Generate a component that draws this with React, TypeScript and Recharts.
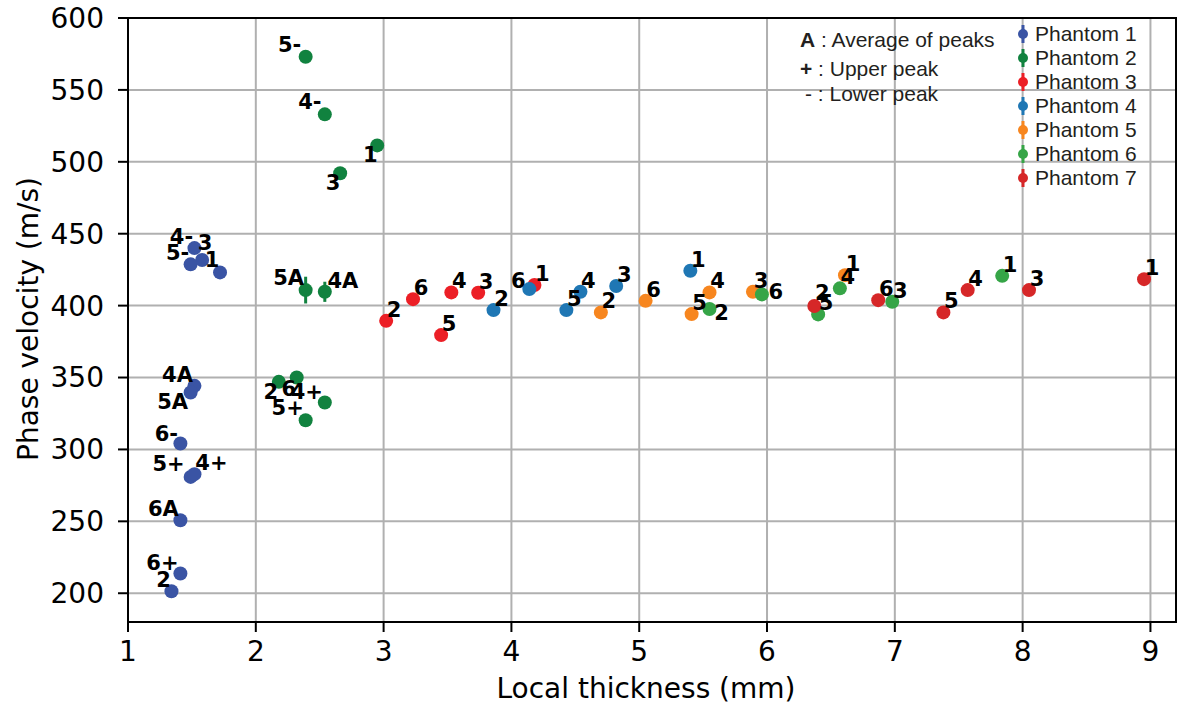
import React from 'react';
import {
  ScatterChart,
  Scatter,
  XAxis,
  YAxis,
  CartesianGrid,
  ReferenceArea,
  ErrorBar,
} from 'recharts';

// Phantom 1
const P1_LABELS = ['4-', '3', '5-', '1', '4A', '5A', '6-', '5+', '4+', '6A', '6+', '2'];
const P1_THICKNESS = [1.52, 1.58, 1.49, 1.72, 1.52, 1.49, 1.41, 1.49, 1.52, 1.41, 1.41, 1.34];
const P1_VELOCITY = [440, 431.7, 428.7, 423.1, 344.2, 339.6, 304.1, 280.9, 282.8, 250.8, 213.7, 201.4];

// Phantom 2
const P2_LABELS = ['5-', '4-', '1', '3', '5A', '4A', '2', '6', '4+', '5+'];
const P2_THICKNESS = [2.39, 2.54, 2.95, 2.66, 2.39, 2.54, 2.18, 2.32, 2.54, 2.39];
const P2_VELOCITY = [573.1, 533, 511.4, 492, 410.8, 409.6, 347, 350, 332.6, 320.3];
const P2_ERROR = [0, 0, 0, 0, 9.3, 7, 0, 0, 0, 0];

const NUM_LABELS = ['1', '2', '3', '4', '5', '6'];

// Phantom 3..7 (points 1..6)
const P3_THICKNESS = [4.18, 3.02, 3.74, 3.53, 3.45, 3.23];
const P3_VELOCITY = [414.3, 389.4, 408.9, 409.2, 379.5, 404.5];

const P4_THICKNESS = [5.4, 3.86, 4.82, 4.54, 4.43, 4.14];
const P4_VELOCITY = [424.2, 396.9, 413.6, 409.6, 396.9, 411.5];

const P5_THICKNESS = [6.61, 4.7, 5.89, 5.55, 5.41, 5.05];
const P5_VELOCITY = [421.2, 395.3, 409.6, 409.2, 394.1, 403.3];

const P6_THICKNESS = [7.84, 5.55, 6.98, 6.57, 6.4, 5.96];
const P6_VELOCITY = [420.7, 397.6, 402.7, 412, 393.9, 407.8];

const P7_THICKNESS = [8.95, 6.37, 8.05, 7.57, 7.38, 6.87];
const P7_VELOCITY = [418.4, 399.7, 410.8, 410.8, 395.3, 403.8];

const X_TICKS = [1, 2, 3, 4, 5, 6, 7, 8, 9];
const Y_TICKS = [200, 250, 300, 350, 400, 450, 500, 550, 600];

const build = (id: string, labels: string[], xs: number[], ys: number[], errs?: number[]) =>
  xs.map((x, i) => ({ series: id, label: labels[i], x, y: ys[i], err: errs ? errs[i] : 0 }));

const SERIES = [
  { id: 'P1', name: 'Phantom 1', color: '#3a54a4', data: build('P1', P1_LABELS, P1_THICKNESS, P1_VELOCITY) },
  { id: 'P2', name: 'Phantom 2', color: '#11823f', data: build('P2', P2_LABELS, P2_THICKNESS, P2_VELOCITY, P2_ERROR) },
  { id: 'P3', name: 'Phantom 3', color: '#ec1f26', data: build('P3', NUM_LABELS, P3_THICKNESS, P3_VELOCITY) },
  { id: 'P4', name: 'Phantom 4', color: '#1f77b4', data: build('P4', NUM_LABELS, P4_THICKNESS, P4_VELOCITY) },
  { id: 'P5', name: 'Phantom 5', color: '#f7861f', data: build('P5', NUM_LABELS, P5_THICKNESS, P5_VELOCITY) },
  { id: 'P6', name: 'Phantom 6', color: '#36a547', data: build('P6', NUM_LABELS, P6_THICKNESS, P6_VELOCITY) },
  { id: 'P7', name: 'Phantom 7', color: '#d62728', data: build('P7', NUM_LABELS, P7_THICKNESS, P7_VELOCITY) },
];

const ALL_POINTS = SERIES.flatMap(s => s.data);

// where each text label sits relative to its dot (px)
const LABEL_OFFSET: Record<string, [number, number]> = {
  'P1:4-': [-13, -11], 'P1:3': [3, -17], 'P1:5-': [-13, -11], 'P1:1': [-8, -12],
  'P1:4A': [-17, -11], 'P1:5A': [-18, 10], 'P1:6-': [-14, -10], 'P1:5+': [-22, -13],
  'P1:4+': [17, -11], 'P1:6A': [-17, -11], 'P1:6+': [-18, -11], 'P1:2': [-8, -11],
  'P2:5-': [-16, -12], 'P2:4-': [-15, -12], 'P2:1': [-7, 10], 'P2:3': [-7, 10],
  'P2:5A': [-17, -12], 'P2:4A': [18, -11], 'P2:2': [-8, 10], 'P2:6': [-8, 11],
  'P2:4+': [-18, -11], 'P2:5+': [-18, -12],
  'P4:6': [-11, -8], 'P6:2': [12, 4], 'P6:6': [14, -2], 'P7:2': [8, -13],
};

const AXIS_FONT = { fontSize: 28, fill: '#000', fontFamily: 'DejaVu Sans' };
const NOTE_STYLE: React.CSSProperties = {
  position: 'absolute',
  fontFamily: 'Liberation Sans, Arial',
  fontSize: 21,
  color: '#231f20',
  lineHeight: '24px',
  whiteSpace: 'nowrap',
};

const XTitle = (props: any) => {
  const vb = props.viewBox || {};
  return (
    <text x={vb.x + vb.width / 2 - 6} y={vb.y + 76} textAnchor="middle" {...AXIS_FONT}>
      Local thickness (mm)
    </text>
  );
};

const YTitle = () => {
  const cy = 319;
  return (
    <text x={28} y={cy} transform={`rotate(-90 28 ${cy})`} textAnchor="middle" dominantBaseline="central" {...AXIS_FONT}>
      Phase velocity (m/s)
    </text>
  );
};

const PointLabel = (props: any) => {
  const p = props.payload;
  const [dx, dy] = LABEL_OFFSET[`${p.series}:${p.label}`] || [8, -11];
  return (
    <text
      x={props.cx + dx}
      y={props.cy + dy}
      textAnchor="middle"
      dominantBaseline="central"
      fontFamily="DejaVu Sans"
      fontWeight="bold"
      fontSize={21}
      fill="#000"
    >
      {p.label}
    </text>
  );
};

export default function App() {
  return (
    <div style={{ position: 'absolute', left: 0, top: 0, width: 1178, height: 704, background: '#fff' }}>
      <ScatterChart width={1178} height={704} margin={{ top: 18, right: 2, left: 0, bottom: 0 }}>
        <CartesianGrid stroke="#b0b0b0" strokeWidth={2} />
        <XAxis
          type="number"
          dataKey="x"
          domain={[1, 9.2]}
          ticks={X_TICKS}
          allowDataOverflow
          height={82}
          tick={AXIS_FONT}
          tickSize={10}
          tickMargin={9}
          axisLine={{ stroke: '#000', strokeWidth: 2 }}
          tickLine={{ stroke: '#000', strokeWidth: 2 }}
          label={<XTitle />}
        />
        <YAxis
          type="number"
          dataKey="y"
          domain={[180, 600]}
          ticks={Y_TICKS}
          allowDataOverflow
          width={128}
          tick={AXIS_FONT}
          tickSize={10}
          tickMargin={14}
          axisLine={{ stroke: '#000', strokeWidth: 2 }}
          tickLine={{ stroke: '#000', strokeWidth: 2 }}
          label={<YTitle />}
        />
        <ReferenceArea x1={1} x2={9.2} y1={180} y2={600} fill="#fff" fillOpacity={0} stroke="#000" strokeWidth={2} />
        {SERIES.map(s => (
          <Scatter
            key={s.id}
            name={s.name}
            data={s.data}
            isAnimationActive={false}
            shape={(p: any) => <circle cx={p.cx} cy={p.cy} r={7} fill={s.color} />}
          >
            {s.id === 'P2' && (
              <ErrorBar dataKey="err" direction="y" width={0} stroke={s.color} strokeWidth={3} />
            )}
          </Scatter>
        ))}
        <Scatter name="labels" data={ALL_POINTS} isAnimationActive={false} shape={PointLabel} legendType="none" />
      </ScatterChart>

      <div style={{ ...NOTE_STYLE, left: 800, top: 28 }}>
        <b>A</b> : Average of peaks
      </div>
      <div style={{ ...NOTE_STYLE, left: 800, top: 57 }}>
        <b>+</b> : Upper peak
      </div>
      <div style={{ ...NOTE_STYLE, left: 805, top: 82 }}>
        - : Lower peak
      </div>

      <div style={{ ...NOTE_STYLE, left: 1015, top: 22 }}>
        {SERIES.map(s => (
          <div key={s.id} style={{ display: 'flex', alignItems: 'center', height: 24 }}>
            <svg width={16} height={22}>
              <line x1={8} y1={2} x2={8} y2={20} stroke={s.color} strokeWidth={3} />
              <circle cx={8} cy={11} r={5} fill={s.color} />
            </svg>
            <span style={{ marginLeft: 4 }}>{s.name}</span>
          </div>
        ))}
      </div>
    </div>
  );
}
